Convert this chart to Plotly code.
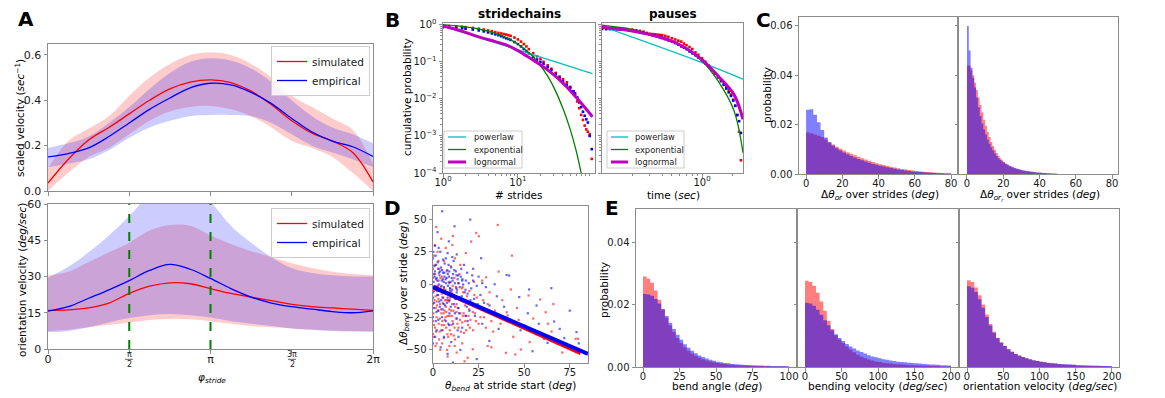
import math
import plotly.graph_objects as go

W, H = 1165, 398
FONT = "DejaVu Sans"
TXT = "#1a1a1a"
SPINE = "#8c8c8c"

# ---------------- Panel A : phase-resolved velocities ----------------
phase = [i * math.pi / 8 for i in range(17)]
velA_sim = [0.035, 0.14, 0.225, 0.28, 0.34, 0.40, 0.45, 0.48, 0.49, 0.478, 0.44, 0.38, 0.31, 0.255, 0.22, 0.17, 0.04]
velA_sim_hi = [0.10, 0.22, 0.275, 0.33, 0.42, 0.50, 0.56, 0.60, 0.61, 0.60, 0.56, 0.50, 0.42, 0.37, 0.32, 0.27, 0.12]
velA_sim_lo = [0.0, 0.08, 0.15, 0.19, 0.25, 0.31, 0.35, 0.37, 0.375, 0.36, 0.33, 0.28, 0.22, 0.19, 0.15, 0.08, 0.0]
velA_emp = [0.15, 0.165, 0.19, 0.24, 0.30, 0.36, 0.41, 0.455, 0.475, 0.468, 0.435, 0.385, 0.32, 0.26, 0.22, 0.195, 0.152]
velA_emp_hi = [0.19, 0.21, 0.24, 0.30, 0.37, 0.45, 0.52, 0.57, 0.585, 0.575, 0.54, 0.48, 0.40, 0.33, 0.28, 0.25, 0.21]
velA_emp_lo = [0.105, 0.12, 0.14, 0.18, 0.235, 0.28, 0.31, 0.33, 0.335, 0.335, 0.33, 0.30, 0.25, 0.20, 0.17, 0.14, 0.106]

oriA_sim = [16, 16.2, 17, 19, 23, 26, 27.4, 27, 25, 23, 21.5, 20, 18.5, 17.5, 17, 16.5, 16]
oriA_sim_hi = [30.5, 32, 36, 40, 44, 49, 51.3, 51, 47, 43.5, 40.5, 38, 35.5, 33.5, 32, 31, 30.5]
oriA_sim_lo = [7.5, 8, 9, 10, 11, 12, 12.5, 12.3, 11.5, 10.5, 9.5, 9, 8.5, 8, 7.7, 7.5, 7.5]
oriA_emp = [15.7, 17.5, 21, 24.5, 28.3, 32.5, 35, 33, 29.2, 25, 21.5, 19, 17.5, 16.5, 15.5, 15, 15.8]
oriA_emp_hi = [29.5, 34, 40, 47, 55, 64, 70, 68, 61, 51, 44, 38, 33.5, 31.5, 30.5, 30, 30]
oriA_emp_lo = [7, 7.5, 9, 11, 12.8, 14, 14.5, 14, 13, 11.5, 10.5, 9.5, 8.5, 8, 7.5, 7.2, 7]

# ---------------- Panel B : cumulative distributions ----------------
sc_pl_x = [1, 10, 99]
sc_pl_y = [0.92, 0.21, 0.048]
sc_exp_x = [1, 2, 3, 5, 7, 10, 15, 20, 25, 30, 40, 50, 60, 70, 80]
sc_exp_y = [1.0, 0.875, 0.766, 0.587, 0.449, 0.30, 0.155, 0.079, 0.041, 0.021, 0.0055, 0.0015, 0.0004, 0.0001, 0.000027]
sc_ln_x = [1, 1.5, 2, 3, 5, 7, 10, 15, 20, 30, 45, 60, 80, 99]
sc_ln_y = [0.92, 0.74, 0.62, 0.47, 0.35, 0.285, 0.2, 0.12, 0.083, 0.045, 0.021, 0.011, 0.0056, 0.0033]
sc_x = [1, 1.2, 1.5, 1.8, 2, 2.5, 3, 3.5, 4, 4.5, 5, 5.5, 6, 6.5, 7, 7.5, 8, 9, 10, 11, 12, 13, 14,
        16, 18, 20, 22, 25, 28, 32, 36, 40, 45, 50, 55, 58, 62, 66, 70, 74, 78, 82, 86, 91, 97]
sc_sim_y = [0.93, 0.92, 0.9, 0.88, 0.86, 0.82, 0.78, 0.74, 0.7, 0.67, 0.63, 0.6, 0.58, 0.56, 0.54, 0.52,
            0.5, 0.45, 0.4, 0.35, 0.3, 0.26, 0.22, 0.17, 0.14, 0.12, 0.1, 0.08, 0.065, 0.05, 0.04, 0.034,
            0.028, 0.021, 0.016, 0.013, 0.0085, 0.0056, 0.0037, 0.0027, 0.0019, 0.0015, 0.0013, 0.0011, 0.00024]
sc_emp_y = [0.85, 0.84, 0.82, 0.8, 0.78, 0.74, 0.7, 0.66, 0.62, 0.58, 0.55, 0.52, 0.49, 0.46, 0.43, 0.41,
            0.39, 0.34, 0.3, 0.26, 0.22, 0.19, 0.17, 0.135, 0.115, 0.1, 0.088, 0.072, 0.06, 0.047, 0.037,
            0.03, 0.024, 0.02, 0.016, 0.014, 0.011, 0.008, 0.006, 0.0045, 0.0035, 0.0028, 0.0023, 0.001, 0.00044]

pa_pl_x = [0.1, 1.0, 2.57]
pa_pl_y = [0.9, 0.095, 0.034]
pa_fit_x = [0.1, 0.2, 0.33, 0.5, 0.66, 1.0, 1.44, 2.09, 2.57]
pa_exp_y = [0.98, 0.75, 0.52, 0.36, 0.24, 0.105, 0.031, 0.0048, 0.00035]
pa_ln_y = [0.85, 0.68, 0.51, 0.36, 0.25, 0.115, 0.042, 0.013, 0.0028]
pa_x = [0.1, 0.11, 0.12, 0.13, 0.14, 0.15, 0.16, 0.17, 0.18, 0.2, 0.22, 0.24, 0.26, 0.28, 0.3, 0.32,
        0.34, 0.36, 0.38, 0.4, 0.43, 0.46, 0.5, 0.54, 0.58, 0.62, 0.66, 0.7, 0.75, 0.8, 0.86, 0.92,
        1.0, 1.08, 1.16, 1.25, 1.35, 1.45, 1.55, 1.65, 1.75, 1.85, 1.95, 2.05, 2.15, 2.25, 2.35, 2.45]
pa_sim_y = [0.8, 0.8, 0.8, 0.79, 0.79, 0.78, 0.78, 0.77, 0.76, 0.74, 0.71, 0.68, 0.65, 0.6, 0.57, 0.56,
            0.55, 0.54, 0.53, 0.52, 0.5, 0.47, 0.43, 0.4, 0.37, 0.35, 0.31, 0.28, 0.25, 0.22, 0.18, 0.155,
            0.125, 0.1, 0.08, 0.063, 0.05, 0.04, 0.032, 0.026, 0.021, 0.017, 0.013, 0.0095, 0.0065, 0.0036, 0.0013, 0.00022]
pa_emp_y = [0.77, 0.76, 0.76, 0.75, 0.75, 0.74, 0.74, 0.73, 0.72, 0.69, 0.66, 0.63, 0.6, 0.57, 0.54, 0.52,
            0.5, 0.48, 0.46, 0.44, 0.41, 0.38, 0.35, 0.32, 0.29, 0.26, 0.24, 0.22, 0.19, 0.17, 0.15, 0.13,
            0.11, 0.09, 0.075, 0.06, 0.048, 0.038, 0.03, 0.024, 0.019, 0.015, 0.012, 0.009, 0.0065, 0.0037, 0.0025, 0.0012]
fit_names = ["powerlaw", "exponential", "lognormal"]

# ---------------- Panel C : orientation change histograms ----------------
c1_bin = 2.0
c1_sim = [0.0168, 0.0165, 0.016, 0.0155, 0.015, 0.014, 0.013, 0.012, 0.011, 0.0102, 0.0095, 0.0088, 0.0082,
          0.0076, 0.007, 0.0064, 0.0059, 0.0054, 0.0049, 0.0044, 0.004, 0.0036, 0.0032, 0.0029, 0.0026, 0.0023,
          0.002, 0.0018, 0.0016, 0.0014, 0.0012, 0.001, 0.0009, 0.0008, 0.0007, 0.0006, 0.0005, 0.0004, 0.0003, 0.0003]
c1_emp = [0.026, 0.0262, 0.024, 0.021, 0.0178, 0.0148, 0.0128, 0.0115, 0.0104, 0.0095, 0.0087, 0.008, 0.0073,
          0.0067, 0.0061, 0.0056, 0.0051, 0.0046, 0.0041, 0.0037, 0.0033, 0.003, 0.0027, 0.0024, 0.0021, 0.0018,
          0.0016, 0.0014, 0.0012, 0.001, 0.0009, 0.0008, 0.0007, 0.0006, 0.0005, 0.0004, 0.0003, 0.0003, 0.0002, 0.0002]
c2_bin = 1.0
c2_sim = [0.044, 0.044, 0.042, 0.040, 0.037, 0.034, 0.031, 0.028, 0.025, 0.022, 0.0195, 0.017, 0.015, 0.013,
          0.0113, 0.0098, 0.0085, 0.0074, 0.0064, 0.0056, 0.0049, 0.0043, 0.0038, 0.0033, 0.0029, 0.0026, 0.0023,
          0.002, 0.0018, 0.0016, 0.0014, 0.0012, 0.0011, 0.001, 0.0009, 0.0008, 0.0007, 0.0006, 0.0005, 0.0005,
          0.0004, 0.0004, 0.0003, 0.0003, 0.0002, 0.0002, 0.0002, 0.0001, 0.0001, 0.0001]
c2_emp = [0.060, 0.050, 0.043, 0.039, 0.035, 0.031, 0.027, 0.0235, 0.0205, 0.018, 0.016, 0.014, 0.0123, 0.0108,
          0.0095, 0.0083, 0.0073, 0.0064, 0.0057, 0.0051, 0.0046, 0.0041, 0.0037, 0.0033, 0.003, 0.0027, 0.0024,
          0.0022, 0.002, 0.0018, 0.0016, 0.0015, 0.0013, 0.0012, 0.0011, 0.001, 0.0009, 0.0008, 0.0007, 0.0006,
          0.0006, 0.0005, 0.0004, 0.0004, 0.0003, 0.0003, 0.0002, 0.0002, 0.0002, 0.0001]

# ---------------- Panel D : bend change vs bend at stride start ----------------
d_sim_pts = [(0.5, -5), (0.8, -12), (1.2, 8), (1.5, -18), (2, -25), (2.3, 3), (2.8, -8), (3.1, -30), (3.5, 12),
             (3.9, -15), (4.2, -2), (4.6, -22), (5, 6), (5.3, -35), (5.7, -10), (6, 18), (6.4, -27), (6.8, -4),
             (7.1, -17), (7.5, 10), (7.9, -38), (8.2, -12), (8.6, 2), (9, -24), (9.3, -7), (9.7, 14), (10.1, -31),
             (10.5, -15), (10.8, -1), (11.2, -20), (11.6, 5), (12, -42), (12.4, -11), (12.8, -26), (13.2, -4),
             (13.6, -18), (14, -33), (14.5, 8), (15, -22), (15.5, -12), (16, -29), (16.5, -6), (17, -37),
             (17.5, -16), (18, -24), (18.6, -9), (19.2, -31), (19.8, -19), (20.5, -27), (21.2, -14), (22, -35),
             (23, -22), (24, -10), (25, -30), (26.5, -19), (28, -25), (30, -15), (32, -28), (34, -20), (2, -45),
             (4, -50), (6, -41), (9, -47), (13, -52), (16, -45), (19, -56), (0.3, 22), (1, 30), (2.5, 25),
             (4.5, 35), (7, 28), (10.9, 37), (10.6, 30.2), (1.8, 44), (20.9, 32.8), (23.7, 39.4), (25.1, 36.9),
             (35.5, 45.5), (43.3, 22.1), (36, 9.9), (29.1, 5.5), (42.7, -3.8), (52.4, -8.4), (58.8, -11.5),
             (40.4, -21.2), (40.9, -23.7), (61.8, -21.2), (78.2, -41.5), (48.2, -49.7), (40, -52.2), (45.1, -53.5),
             (30, -47), (32, -48), (21.8, -49.5), (17.3, -58.7), (70.9, -52), (79.5, -41.5), (27, 3), (31, -6),
             (38, -12), (46, -18), (50, -31), (55, -26), (65, -36), (68, -45), (12, 20), (15, 15), (18, 24),
             (8, -55), (0, -15), (0, -28), (0, 5), (0, 12), (0, -38), (3, 18), (5.5, -14), (7.3, -21), (9.5, -3),
             (11, -9), (13.8, 1), (16.2, -2), (20, -5), (22.5, 2), (24.5, -17), (27.5, -12), (33, -36), (37, -30),
             (44, -40), (47, -27), (53, -44), (57, -38), (63, -30), (74, -48), (66, -15), (1.4, -9), (2.6, -20),
             (3.8, -26), (4.9, -7), (6.1, -31), (7.6, -12), (8.9, -19), (10.3, -24), (11.8, -33), (13, -15),
             (14.8, -27), (16.8, -22), (18.2, -35), (1.1, -33), (2.1, -13), (5.9, -22), (9.9, -38), (12.6, -2),
             (0.2, -22), (0.6, -31), (1.6, -3), (2.2, -16), (3.0, -11), (3.7, -36), (4.4, -19), (5.1, -28),
             (5.9, -3), (6.6, -12), (7.2, -33), (8.0, -24), (8.8, -13), (9.2, -35), (10.0, -20), (10.7, -28),
             (11.4, -39), (12.2, -17), (13.4, -30), (14.2, -10), (15.3, -36), (16.3, -24), (17.7, -28), (18.9, -14),
             (20.2, -33), (21.8, -21), (23.5, -28), (0.4, -40), (1.3, -47), (3.3, -42), (5.0, -45), (7.7, -50),
             (11.9, -47), (0.9, 15), (2.7, -1), (4.1, 5), (6.3, -20), (9.4, -10), (12.9, -21), (15.8, -3),
             (19.4, -24), (22.7, -8), (26, -25), (29, -33), (1.7, -36), (4.8, -31), (8.3, -40), (3.6, -5),
             (6.9, -25), (10.2, -6)]
d_emp_pts = [(0.3, 2), (0.7, -3), (1, 10), (1.3, -1), (1.7, 15), (2, 5), (2.4, -8), (2.8, 12), (3.2, 0), (3.6, 7),
             (4, -5), (4.4, 13), (4.8, 3), (5.2, -10), (5.6, 9), (6, -2), (6.4, 16), (6.9, 4), (7.3, -7), (7.8, 11),
             (8.2, -1), (8.7, 6), (9.1, -12), (9.6, 2), (10, 13), (10.5, -4), (11, 8), (11.5, -15), (12, 1),
             (12.5, 10), (13, -6), (13.5, 4), (14, -18), (14.6, -2), (15.2, 6), (15.8, -9), (16.5, 0), (17.2, -13),
             (18, 3), (19, -7), (20, -20), (21, -3), (22.5, -11), (24, -1), (26, -8), (28, -14), (3, -20), (5, -25),
             (7, -28), (9, -22), (11, -30), (13, -26), (16, -33), (19, -28), (2, -35), (6, -40), (10, -44),
             (14, -40), (1.1, 29.7), (5, 56), (20.4, 49.6), (11.8, 44.5), (8.7, 33), (26.4, 20.1), (40.4, 7.3),
             (41.8, 6.8), (33.8, 0.2), (52.7, -3.8), (64.9, -2.8), (47.3, -9.6), (56.8, -16.1), (34.6, -23.7),
             (66.4, -28.3), (69.5, -33.9), (62.8, -44.6), (54.6, -51), (30.9, -43.1), (60.9, -41.5), (36, -33.9),
             (10.9, -59.7), (78.7, -36.4), (0, 20), (0, -10), (0, -25), (0, -45), (4, 25), (7, 20), (13, 23),
             (17, 15), (22, 12), (25, 6), (29, -2), (31, -16), (35, -9), (39, -17), (43, -28), (48, -35), (52, -22),
             (58, -30), (72, -41), (75, -20), (80, -45), (4.2, -48), (8, -53), (15, -50), (24, -57), (2.5, 40),
             (6.5, -16), (9.8, -9), (12.3, -11), (15.5, 12), (18.5, -17), (21.5, 7), (23, -24), (27, -30),
             (1.5, -28), (3.4, -13), (6.2, 9), (8.5, 15), (11.3, 18), (14.3, -22), (0.9, 6), (1.9, -4), (3.3, 9),
             (4.6, -1), (5.4, 4), (7.1, 1), (8.1, 8), (9.4, -5), (10.8, 3), (12.9, 7), (14.1, 1), (16.1, 4),
             (17.8, -4), (19.6, 1), (0.5, -18), (2.9, -27), (5.8, -15), (8.4, -30), (0.4, 8), (0.8, 14), (1.6, 4),
             (2.1, -5), (2.6, 17), (3.0, 3), (3.9, 10), (4.5, -12), (5.0, 11), (5.9, 2), (6.7, -6), (7.4, 5),
             (8.0, -10), (8.9, 10), (9.3, -3), (10.3, 5), (10.9, -8), (11.7, 11), (12.8, -3), (13.8, 7),
             (14.9, -10), (16, 3), (17.4, -6), (18.7, 9), (20.5, -12), (22, 3), (24.5, -15), (27, 1), (0.6, -14),
             (1.9, -21), (3.7, -17), (5.3, -19), (7.6, -14), (9.7, -17), (12, -22), (0.2, 25), (1.4, 22), (3.1, 28),
             (5.5, 19), (8, 24), (10.6, 21), (1.2, -40), (4.7, -35), (8.8, -31), (13.5, -35), (17.9, -24),
             (0.1, -6), (2.2, -2), (6.3, 6), (9.0, 1)]
d_sim_line_x = [0, 81]
d_sim_line_y = [-2, -52.5]
d_emp_line_x = [0, 85]
d_emp_line_y = [-2, -53]

# ---------------- Panel E : angle / velocity histograms ----------------
e1_bin = 2.5
e1_sim = [0.029, 0.0283, 0.027, 0.0245, 0.0215, 0.0185, 0.0158, 0.0133, 0.0112, 0.0093, 0.0077, 0.0063, 0.0052,
          0.0043, 0.0036, 0.003, 0.0025, 0.0021, 0.0018, 0.0015, 0.0013, 0.0011, 0.00095, 0.0008, 0.0007, 0.0006,
          0.00055, 0.0005, 0.00045, 0.0004, 0.00035, 0.0003, 0.0003, 0.00025, 0.00025, 0.0002, 0.0002, 0.0002,
          0.00015, 0.00015]
e1_emp = [0.0234, 0.0232, 0.0228, 0.0218, 0.0203, 0.0185, 0.0163, 0.0142, 0.0122, 0.0103, 0.0087, 0.0073, 0.0062,
          0.0052, 0.0044, 0.0037, 0.0032, 0.0027, 0.0023, 0.002, 0.0017, 0.0015, 0.0013, 0.0012, 0.001, 0.0009,
          0.0008, 0.0007, 0.00065, 0.0006, 0.00055, 0.0005, 0.00045, 0.0004, 0.0004, 0.00035, 0.0003, 0.0003,
          0.0003, 0.00025]
e2_bin = 5.0
e2_sim = [0.0276, 0.0272, 0.026, 0.0238, 0.021, 0.018, 0.0148, 0.0122, 0.0102, 0.0088, 0.0077, 0.0066, 0.0056,
          0.0047, 0.0039, 0.0033, 0.0028, 0.0024, 0.0021, 0.0018, 0.0016, 0.0014, 0.0012, 0.0011, 0.001, 0.0009,
          0.0008, 0.0007, 0.0006, 0.0006, 0.0005, 0.0005, 0.0004, 0.0004, 0.0003, 0.0003, 0.0003, 0.0002, 0.0002, 0.0002]
e2_emp = [0.0206, 0.0203, 0.0196, 0.0183, 0.0167, 0.015, 0.0134, 0.0118, 0.0105, 0.0093, 0.0083, 0.0074, 0.0066,
          0.0059, 0.0053, 0.0048, 0.0043, 0.0038, 0.0034, 0.0031, 0.0028, 0.0025, 0.0023, 0.0021, 0.0019, 0.0017,
          0.0016, 0.0015, 0.0014, 0.0013, 0.0012, 0.0011, 0.001, 0.0009, 0.0008, 0.0008, 0.0007, 0.0006, 0.0006, 0.0005]
e3_bin = 5.0
e3_sim = [0.0278, 0.0272, 0.0255, 0.023, 0.02, 0.0168, 0.0138, 0.0113, 0.0094, 0.0079, 0.0067, 0.0057, 0.0049,
          0.0042, 0.0036, 0.0032, 0.0028, 0.0024, 0.0021, 0.0019, 0.0017, 0.0015, 0.0013, 0.0012, 0.0011, 0.001,
          0.0009, 0.0008, 0.0007, 0.0007, 0.0006, 0.0005, 0.0005, 0.0004, 0.0004, 0.0004, 0.0003, 0.0003, 0.0003, 0.0002]
e3_emp = [0.0259, 0.0254, 0.024, 0.0217, 0.019, 0.016, 0.0133, 0.011, 0.0092, 0.0078, 0.0067, 0.0057, 0.0049,
          0.0042, 0.0037, 0.0032, 0.0028, 0.0025, 0.0022, 0.0019, 0.0017, 0.0015, 0.0014, 0.0012, 0.0011, 0.001,
          0.0009, 0.0008, 0.0008, 0.0007, 0.0006, 0.0006, 0.0005, 0.0005, 0.0004, 0.0004, 0.0004, 0.0003, 0.0003, 0.0003]

# ---------------- styling ----------------
RED, BLUE = "#ff0000", "#0000ff"
RED_BAND, BLUE_BAND = "rgba(255,0,0,0.2)", "rgba(0,0,255,0.2)"
RED_H, BLUE_H = "rgba(255,0,0,0.5)", "rgba(0,0,255,0.5)"
CYAN, GREEN, MAGENTA = "#00bfbf", "#008000", "#bf00bf"
FIT_COLORS = [CYAN, GREEN, MAGENTA]
FIT_WIDTHS = [1.3, 1.3, 3]


def xd(a, b):
    return [a / W, b / W]


def yd(top, bottom):
    return [1 - bottom / H, 1 - top / H]


def px(x):
    return x / W


def py(y):
    return 1 - y / H


def axis(size=10, xa=False, **kw):
    d = dict(showline=True, linecolor=SPINE, linewidth=1, mirror=True, ticks="outside", ticklen=3.5,
             tickwidth=1, tickcolor=SPINE, showgrid=False, zeroline=False, automargin=False,
             tickfont=dict(family=FONT, size=size, color=TXT))
    if xa:
        d["ticklabelstandoff"] = -4
    d.update(kw)
    return d


fig = go.Figure()


def add(tr):
    fig.add_trace(tr)


def band(x, hi, lo, color, n):
    add(go.Scatter(x=x, y=hi, mode="lines", line=dict(width=0, shape="spline"), xaxis="x" + n, yaxis="y" + n,
                   showlegend=False, hoverinfo="skip"))
    add(go.Scatter(x=x, y=lo, mode="lines", line=dict(width=0, shape="spline"), fill="tonexty",
                   fillcolor=color, xaxis="x" + n, yaxis="y" + n, showlegend=False, hoverinfo="skip"))


band(phase, velA_sim_hi, velA_sim_lo, RED_BAND, "")
band(phase, velA_emp_hi, velA_emp_lo, BLUE_BAND, "")
add(go.Scatter(x=phase, y=velA_sim, mode="lines", line=dict(color=RED, width=1.3, shape="spline"),
               name="simulated", legend="legend", xaxis="x", yaxis="y"))
add(go.Scatter(x=phase, y=velA_emp, mode="lines", line=dict(color=BLUE, width=1.3, shape="spline"),
               name="empirical", legend="legend", xaxis="x", yaxis="y"))

band(phase, oriA_sim_hi, oriA_sim_lo, RED_BAND, "2")
band(phase, oriA_emp_hi, oriA_emp_lo, BLUE_BAND, "2")
add(go.Scatter(x=phase, y=oriA_sim, mode="lines", line=dict(color=RED, width=1.3, shape="spline"),
               name="simulated", legend="legend2", xaxis="x2", yaxis="y2"))
add(go.Scatter(x=phase, y=oriA_emp, mode="lines", line=dict(color=BLUE, width=1.3, shape="spline"),
               name="empirical", legend="legend2", xaxis="x2", yaxis="y2"))


# Panel B
def bpanel(n, fits, dx, sy, ey):
    add(go.Scatter(x=dx, y=sy, mode="markers", marker=dict(symbol="square", size=2.6, color=RED),
                   xaxis="x" + n, yaxis="y" + n, showlegend=False, hoverinfo="skip"))
    add(go.Scatter(x=dx, y=ey, mode="markers", marker=dict(symbol="square", size=2.6, color=BLUE),
                   xaxis="x" + n, yaxis="y" + n, showlegend=False, hoverinfo="skip"))
    for (fx, fy), name, col, lw in zip(fits, fit_names, FIT_COLORS, FIT_WIDTHS):
        add(go.Scatter(x=fx, y=fy, mode="lines", line=dict(color=col, width=lw, shape="spline"), name=name,
                       xaxis="x" + n, yaxis="y" + n, showlegend=False, hoverinfo="skip"))


bpanel("3", [(sc_pl_x, sc_pl_y), (sc_exp_x, sc_exp_y), (sc_ln_x, sc_ln_y)], sc_x, sc_sim_y, sc_emp_y)
bpanel("4", [(pa_pl_x, pa_pl_y), (pa_fit_x, pa_exp_y), (pa_fit_x, pa_ln_y)], pa_x, pa_sim_y, pa_emp_y)


# histograms
def hist(width, vals, color, n):
    xs = [i * width for i in range(len(vals) + 1)]
    ys = list(vals) + [vals[-1]]
    add(go.Scatter(x=xs, y=ys, mode="lines", line=dict(width=0, shape="hv", color=color), fill="tozeroy",
                   fillcolor=color, xaxis="x" + n, yaxis="y" + n, showlegend=False, hoverinfo="skip"))


hist(c1_bin, c1_sim, RED_H, "5")
hist(c1_bin, c1_emp, BLUE_H, "5")
hist(c2_bin, c2_sim, RED_H, "6")
hist(c2_bin, c2_emp, BLUE_H, "6")
hist(e1_bin, e1_sim, RED_H, "8")
hist(e1_bin, e1_emp, BLUE_H, "8")
hist(e2_bin, e2_sim, RED_H, "9")
hist(e2_bin, e2_emp, BLUE_H, "9")
hist(e3_bin, e3_sim, RED_H, "10")
hist(e3_bin, e3_emp, BLUE_H, "10")

# Panel D
add(go.Scatter(x=[p[0] for p in d_sim_pts], y=[p[1] for p in d_sim_pts], mode="markers",
               marker=dict(symbol="square", size=2.2, color="rgba(255,0,0,0.6)"), xaxis="x7", yaxis="y7",
               showlegend=False, hoverinfo="skip"))
add(go.Scatter(x=[p[0] for p in d_emp_pts], y=[p[1] for p in d_emp_pts], mode="markers",
               marker=dict(symbol="square", size=2.2, color="rgba(0,0,255,0.6)"), xaxis="x7", yaxis="y7",
               showlegend=False, hoverinfo="skip"))
add(go.Scatter(x=d_sim_line_x, y=d_sim_line_y, mode="lines", line=dict(color=RED, width=4), xaxis="x7",
               yaxis="y7", showlegend=False, hoverinfo="skip"))
add(go.Scatter(x=d_emp_line_x, y=d_emp_line_y, mode="lines", line=dict(color=BLUE, width=4), xaxis="x7",
               yaxis="y7", showlegend=False, hoverinfo="skip"))

# ---------------- axes ----------------
pi_vals = [0, math.pi / 2, math.pi, 3 * math.pi / 2, 2 * math.pi]
pi_text = ["0", "", "π", "", "2π"]
sup = {1: "10<sup>0</sup>", 0.1: "10<sup>−1</sup>", 0.01: "10<sup>−2</sup>", 0.001: "10<sup>−3</sup>",
       0.0001: "10<sup>−4</sup>", 10: "10<sup>1</sup>"}
y_log_vals = [0.0001, 0.001, 0.01, 0.1, 1]
y_minor = [m * 10 ** e for e in range(-4, 0) for m in range(2, 10)]
sc_minor = [m * 10 ** e for e in range(0, 2) for m in range(2, 10)]
pa_minor = [m * 10 ** e for e in range(-1, 1) for m in range(2, 10)]
minor_style = dict(ticks="outside", ticklen=2, tickwidth=1, tickcolor=SPINE)

lay = dict(
    xaxis=axis(11, True, domain=xd(48, 373), range=[0, 2 * math.pi], anchor="y", tickvals=pi_vals,
               showticklabels=False),
    yaxis=axis(11, domain=yd(44, 191), range=[0, 0.648], anchor="x", tickvals=[0, 0.2, 0.4, 0.6],
               ticktext=["0.0", "0.2", "0.4", "0.6"]),
    xaxis2=axis(11, True, domain=xd(48, 373), range=[0, 2 * math.pi], anchor="y2", tickvals=pi_vals,
                ticktext=pi_text),
    yaxis2=axis(11, domain=yd(204, 349), range=[0, 60], anchor="x2", tickvals=[0, 15, 30, 45, 60]),
    xaxis3=axis(10, True, type="log", domain=xd(443, 595), range=[0, 2.03], anchor="y3", tickvals=[1, 10],
                ticktext=[sup[1], sup[10]], minor=dict(tickvals=sc_minor, **minor_style)),
    yaxis3=axis(10, type="log", domain=yd(23, 173), range=[-4, 0.046], anchor="x3", tickvals=y_log_vals,
                ticktext=[sup[v] for v in y_log_vals], minor=dict(tickvals=y_minor, **minor_style)),
    xaxis4=axis(10, True, type="log", domain=xd(602, 743), range=[-1.0, 0.41], anchor="y4", tickvals=[1],
                ticktext=[sup[1]], minor=dict(tickvals=pa_minor, **minor_style)),
    yaxis4=axis(10, type="log", domain=yd(23, 173), range=[-4, 0.046], anchor="x4", tickvals=y_log_vals,
                showticklabels=False, minor=dict(tickvals=y_minor, **minor_style)),
    xaxis5=axis(10, True, domain=xd(799, 957), range=[-3.9, 83.3], anchor="y5", tickvals=[0, 20, 40, 60, 80]),
    yaxis5=axis(10, domain=yd(17, 174), range=[0, 0.0636], anchor="x5", tickvals=[0, 0.02, 0.04, 0.06],
                ticktext=["0.00", "0.02", "0.04", "0.06"]),
    xaxis6=axis(10, True, domain=xd(959, 1118), range=[-4.4, 83.3], anchor="y6", tickvals=[0, 20, 40, 60, 80]),
    yaxis6=axis(10, domain=yd(17, 174), range=[0, 0.0636], anchor="x6", tickvals=[0, 0.02, 0.04, 0.06],
                showticklabels=False),
    xaxis7=axis(10, True, domain=xd(433, 588), range=[0, 85], anchor="y7", tickvals=[0, 25, 50, 75]),
    yaxis7=axis(10, domain=yd(206, 363), range=[-60, 60], anchor="x7", tickvals=[-50, -25, 0, 25, 50]),
    xaxis8=axis(10, True, domain=xd(636, 796), range=[-4.8, 104.8], anchor="y8", tickvals=[0, 25, 50, 75, 100]),
    yaxis8=axis(10, domain=yd(209, 367), range=[0, 0.0506], anchor="x8", tickvals=[0, 0.02, 0.04],
                ticktext=["0.00", "0.02", "0.04"]),
    xaxis9=axis(10, True, domain=xd(798, 958), range=[-9.6, 209.6], anchor="y9", tickvals=[0, 50, 100, 150, 200]),
    yaxis9=axis(10, domain=yd(209, 367), range=[0, 0.0506], anchor="x9", tickvals=[0, 0.02, 0.04],
                showticklabels=False),
    xaxis10=axis(10, True, domain=xd(960, 1119), range=[-9.7, 209.7], anchor="y10",
                 tickvals=[0, 50, 100, 150, 200]),
    yaxis10=axis(10, domain=yd(209, 367), range=[0, 0.0506], anchor="x10", tickvals=[0, 0.02, 0.04],
                 showticklabels=False),
)


def legend_box(x, y, size):
    return dict(x=x, y=y, xanchor="right", yanchor="top", bgcolor="rgba(255,255,255,0.85)",
                bordercolor="#cccccc", borderwidth=1, font=dict(family=FONT, size=size, color=TXT),
                itemwidth=30, tracegroupgap=0, traceorder="normal")


lay["legend"] = legend_box(px(370), py(46), 10.5)
lay["legend2"] = legend_box(px(370), py(208), 10.5)

ann = []
shapes = []


def label(text, x, y, size, bold=False, angle=0, xanchor="center", color="#000000"):
    ann.append(dict(text=("<b>%s</b>" % text) if bold else text, x=px(x), y=py(y), xref="paper", yref="paper",
                    xanchor=xanchor, yanchor="middle", showarrow=False, textangle=angle,
                    font=dict(family=FONT, size=size, color=color)))


# compact legends for panel B
for (x0, x1, lx0, lx1, tx) in [(444, 522, 448, 466, 472), (607, 684, 611, 628, 633)]:
    shapes.append(dict(type="rect", xref="paper", yref="paper", x0=px(x0), x1=px(x1), y0=py(168), y1=py(131),
                       fillcolor="rgba(255,255,255,0.85)", line=dict(color="#cccccc", width=1), layer="above"))
    for name, col, lw, yy in zip(fit_names, FIT_COLORS, FIT_WIDTHS, [137, 149.5, 162]):
        shapes.append(dict(type="line", xref="paper", yref="paper", x0=px(lx0), x1=px(lx1), y0=py(yy),
                           y1=py(yy), line=dict(color=col, width=lw), layer="above"))
        label(name, tx, yy, 8.3, xanchor="left", color=TXT)

# fraction tick labels for pi/2 and 3pi/2
for xx, num in [(129, "π"), (292, "3π")]:
    label(num, xx, 354, 8, color=TXT)
    label("2", xx, 364.5, 8, color=TXT)
    shapes.append(dict(type="line", xref="paper", yref="paper", x0=px(xx - 4), x1=px(xx + 4), y0=py(359.3),
                       y1=py(359.3), line=dict(color=TXT, width=0.7)))

for letter, lx, ly in [("A", 26, 19), ("B", 392, 20), ("C", 763, 20), ("D", 392, 208), ("E", 612, 208)]:
    label(letter, lx, ly, 20, bold=True)
label("stridechains", 519, 14, 12, bold=True)
label("pauses", 673, 14, 12, bold=True)
label("scaled velocity (<i>sec</i><sup>−1</sup>)", 19, 118, 10.5, angle=-90)
label("orientation velocity (<i>deg/sec</i>)", 22, 280, 10.5, angle=-90)
label("<i>φ<sub>stride</sub></i>", 212, 378, 10.5)
label("cumulative probability", 407, 97, 10.5, angle=-90)
label("# strides", 519, 195, 10.5)
label("time (<i>sec</i>)", 673, 195, 10.5)
label("probability", 767, 95, 10.5, angle=-90)
label("Δ<i>θ<sub>or</sub></i> over strides (<i>deg</i>)", 880, 195.5, 10.5)
label("Δ<i>θ<sub>or<sub>r</sub></sub></i> over strides (<i>deg</i>)", 1040, 195.5, 10.5)
label("Δ<i>θ<sub>bend</sub></i> over stride (<i>deg</i>)", 404, 283, 10.5, angle=-90)
label("<i>θ<sub>bend</sub></i> at stride start (<i>deg</i>)", 510, 386, 10.5)
label("probability", 604, 290, 10.5, angle=-90)
label("bend angle (<i>deg</i>)", 717, 386, 10.5)
label("bending velocity (<i>deg/sec</i>)", 878, 386, 10.5)
label("orientation velocity (<i>deg/sec</i>)", 1040, 386, 10.5)

shapes += [dict(type="line", xref="x2", yref="y2 domain", x0=v, x1=v, y0=0, y1=1,
                line=dict(color=GREEN, width=2, dash="dash")) for v in [math.pi / 2, math.pi]]

fig.update_layout(template="none", width=W, height=H, margin=dict(l=0, r=0, t=0, b=0, pad=0),
                  paper_bgcolor="white", plot_bgcolor="white", font=dict(family=FONT, color=TXT),
                  annotations=ann, shapes=shapes, hovermode=False, **lay)

fig.write_html("out.html")
